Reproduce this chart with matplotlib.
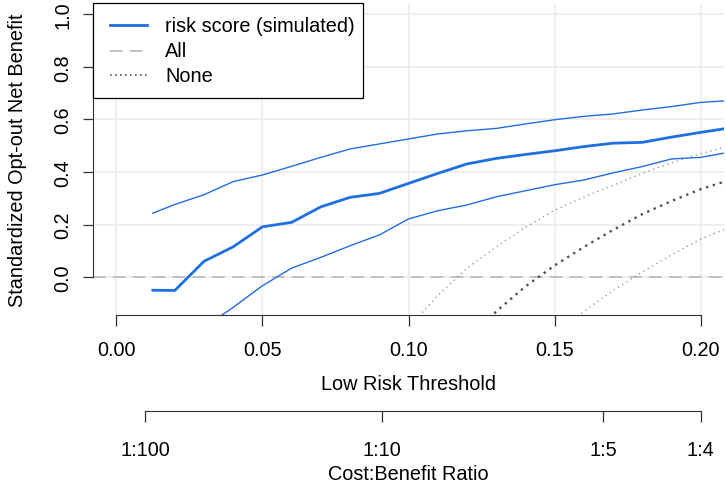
import matplotlib
matplotlib.use('Agg')
import matplotlib.pyplot as plt
from matplotlib.patches import Rectangle

plt.rcParams['font.family'] = ['Liberation Sans', 'DejaVu Sans']
plt.rcParams['font.size'] = 14.3

# risk score curve + confidence band
thr = [0.0125, 0.02, 0.03, 0.04, 0.05, 0.06, 0.07, 0.08, 0.09, 0.10, 0.11,
       0.12, 0.13, 0.14, 0.15, 0.16, 0.17, 0.18, 0.19, 0.20, 0.21]
nb_mid = [-0.049, -0.050, 0.061, 0.116, 0.192, 0.209, 0.268, 0.304, 0.319, 0.357, 0.395,
          0.431, 0.452, 0.467, 0.481, 0.497, 0.510, 0.513, 0.533, 0.551, 0.568]
nb_hi = [0.244, 0.277, 0.314, 0.364, 0.389, 0.422, 0.456, 0.488, 0.507, 0.526, 0.545,
         0.557, 0.566, 0.583, 0.599, 0.612, 0.621, 0.636, 0.649, 0.665, 0.672]
nb_lo = [-0.30, -0.25, -0.19, -0.114, -0.032, 0.035, 0.076, 0.120, 0.161, 0.222, 0.253,
         0.275, 0.306, 0.329, 0.352, 0.370, 0.397, 0.421, 0.450, 0.456, 0.476]

# "None" curve + band
thr_none = [0.10, 0.11, 0.12, 0.13, 0.14, 0.15, 0.16, 0.17, 0.18, 0.19, 0.20, 0.21]
none_mid = [-0.53, -0.37, -0.25, -0.13, -0.035, 0.045, 0.115, 0.18, 0.24, 0.29, 0.335, 0.37]
none_hi = [-0.19, -0.07, 0.035, 0.115, 0.19, 0.255, 0.305, 0.35, 0.395, 0.435, 0.47, 0.50]
none_lo = [-1.0, -0.85, -0.65, -0.50, -0.40, -0.23, -0.13, -0.05, 0.02, 0.085, 0.145, 0.19]

xticks = [0.00, 0.05, 0.10, 0.15, 0.20]
yticks = [0.0, 0.2, 0.4, 0.6, 0.8, 1.0]
cb_labels = ['1:100', '1:10', '1:5', '1:4']
cb_odds = [100, 10, 5, 4]
leg_labels = ['risk score (simulated)', 'All', 'None']

blue = '#1f6fe0'
W, H = 726, 485

fig = plt.figure(figsize=(W/100, H/100), dpi=100)
ax = fig.add_axes([93/W, 1-316.2/H, (724-93)/W, (316.2-3.7)/H])
ax.set_xlim(-0.008, 0.208)
ax.set_ylim(-0.144, 1.044)

for yv in yticks:
    ax.axhline(yv, color='#ebebeb', lw=1.1, zorder=0)
for xv in xticks:
    ax.axvline(xv, color='#ebebeb', lw=1.1, zorder=0)

all_style = dict(color='#bdbdbd', lw=1.3, ls=(0, (7, 4)))
ax.axhline(0, zorder=1, **all_style)
ax.plot(thr_none, none_hi, color='#8a8a8a', lw=0.9, ls=(0, (1, 3)), zorder=2)
ax.plot(thr_none, none_lo, color='#8a8a8a', lw=0.9, ls=(0, (1, 3)), zorder=2)
ax.plot(thr_none, none_mid, color='#505050', lw=1.7, ls=(0, (1, 2)), zorder=2)

ax.plot(thr, nb_hi, color=blue, lw=1.0, zorder=3)
ax.plot(thr, nb_lo, color=blue, lw=1.0, zorder=3)
ax.plot(thr, nb_mid, color=blue, lw=2.0, zorder=4)

# legend box, drawn by hand in pixel units (top-left origin)
def px(x, y):
    return x/W, 1-y/H
fig.patches.append(Rectangle(px(93, 99), 270/W, 95/H, transform=fig.transFigure,
                             facecolor='white', edgecolor='black', lw=0.9, zorder=10))
leg_styles = [dict(color=blue, lw=2.0),
              dict(color='#bdbdbd', lw=1.3, ls=(0, (7, 4))),
              dict(color='#505050', lw=1.2, ls=(0, (1, 2)))]
for i, (lab, st) in enumerate(zip(leg_labels, leg_styles)):
    yy = [26, 52, 76][i]
    x0, y0 = px(110, yy)
    x1, _ = px(147, yy)
    fig.add_artist(plt.Line2D([x0, x1], [y0, y0], transform=fig.transFigure, zorder=11, **st))
    fig.text(165/W, y0, lab, ha='left', va='center', zorder=11)

for s in ['top', 'right']:
    ax.spines[s].set_visible(False)
ax.spines['left'].set_bounds(0, 1)
ax.spines['bottom'].set_bounds(0, 0.2)
ax.spines['left'].set_color('#333333')
ax.spines['bottom'].set_color('#333333')

ax.set_xticks(xticks)
ax.set_xticklabels(['%.2f' % v for v in xticks])
ax.set_yticks(yticks)
ax.set_yticklabels(['%.1f' % v for v in yticks], rotation=90, va='center')
ax.tick_params(axis='x', direction='out', length=8, width=0.9, color='#333333', pad=10)
ax.tick_params(axis='y', direction='out', length=7, width=0.9, color='#333333', pad=8)
ax.set_xlabel('Low Risk Threshold', labelpad=11)
ax.set_ylabel('Standardized Opt-out Net Benefit', labelpad=19)

# cost:benefit axis
sec = ax.secondary_xaxis(-0.3056)
sec.set_xticks([1/(o+1) for o in cb_odds])
sec.set_xticklabels(cb_labels)
sec.spines['bottom'].set_bounds(1/101, 0.2)
sec.spines['bottom'].set_color('#333333')
sec.tick_params(axis='x', direction='out', length=8, width=0.9, color='#333333', pad=13)
sec.set_xlabel('Cost:Benefit Ratio', labelpad=3.5)

fig.savefig('out.png', dpi=100)
